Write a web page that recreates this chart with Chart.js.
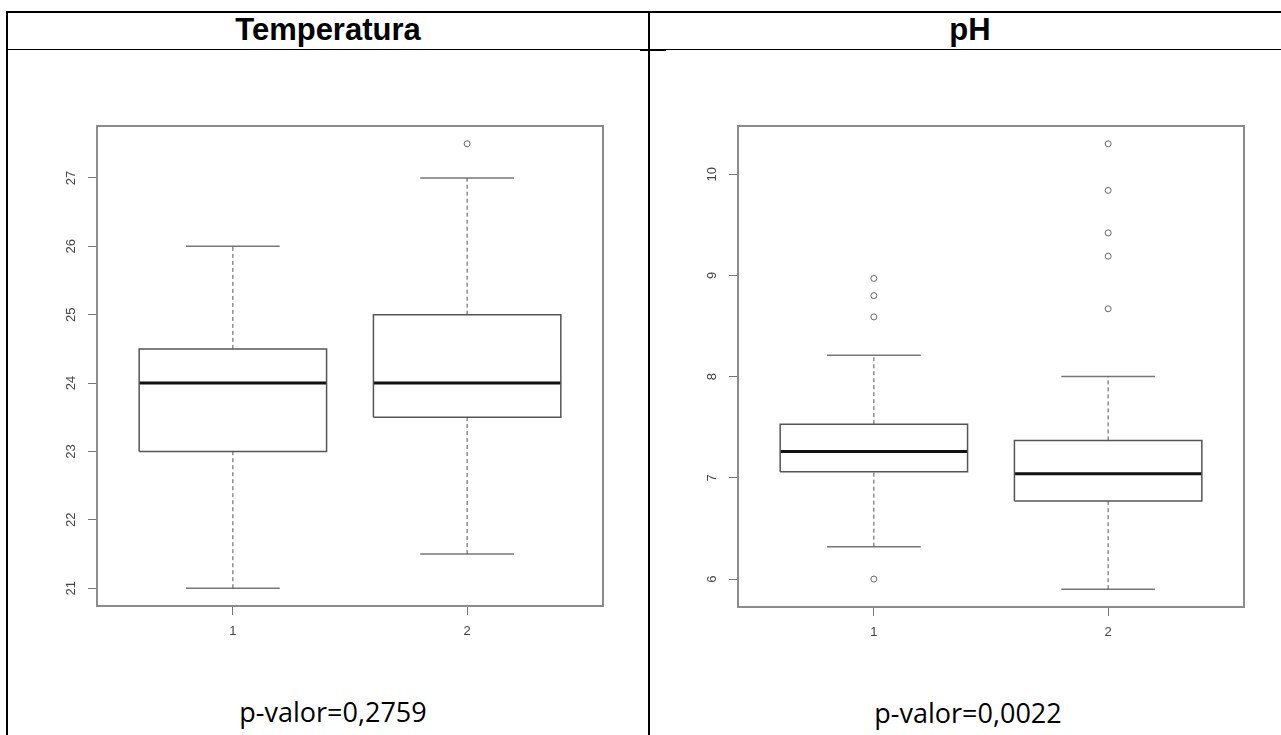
<!DOCTYPE html>
<html>
<head>
<meta charset="utf-8">
<script src="https://cdn.jsdelivr.net/npm/chart.js@4.4.1/dist/chart.umd.min.js"></script>
<style>
  body { margin: 0; background: #fff; width: 1281px; height: 735px; overflow: hidden; position: relative; }
  .rule { position: absolute; background: #000; }
  .head { position: absolute; width: 400px; text-align: center; font: bold 31px "Liberation Sans", Arial, sans-serif; line-height: 31px; color: #000; }
  .pval { position: absolute; width: 400px; text-align: center; font: 27px "Open Sans", sans-serif; line-height: 27px; color: #000; }
  canvas { position: absolute; }
</style>
</head>
<body>
<!-- table rules -->
<div class="rule" style="left:6px;top:11px;width:1275px;height:2px"></div>
<div class="rule" style="left:6px;top:11px;width:2px;height:724px"></div>
<div class="rule" style="left:648px;top:11px;width:2px;height:724px"></div>
<div class="rule" style="left:6px;top:49px;width:1275px;height:1px"></div>
<div class="rule" style="left:640px;top:50px;width:26px;height:1px"></div>

<div class="head" style="left:128px;top:14px">Temperatura</div>
<div class="head" style="left:770px;top:14px">pH</div>
<div class="pval" style="left:133px;top:698px">p-valor=0,2759</div>
<div class="pval" style="left:768px;top:699px">p-valor=0,0022</div>

<canvas id="temp"></canvas>
<canvas id="ph"></canvas>

<script>
// groups on the x axis
var groups = ['1', '2'];

// Temperatura: five-number summaries per group
var tempLow = [21, 21.5];
var tempQ1 = [23, 23.5];
var tempMedian = [24, 24];
var tempQ3 = [24.5, 25];
var tempHigh = [26, 27];
var tempOutliers = [[], [27.5]];
var tempTicks = [21, 22, 23, 24, 25, 26, 27];

// pH
var phLow = [6.32, 5.9];
var phQ1 = [7.06, 6.77];
var phMedian = [7.26, 7.04];
var phQ3 = [7.53, 7.37];
var phHigh = [8.21, 8.0];
var phOutliers = [[6.0, 8.59, 8.8, 8.97], [8.67, 9.19, 9.42, 9.84, 10.3]];
var phTicks = [6, 7, 8, 9, 10];

// box around the plot region
var frame = {
  id: 'frame',
  afterDatasetsDraw: function (chart) {
    var a = chart.chartArea, c = chart.ctx;
    c.save();
    c.strokeStyle = '#8c8c8c';
    c.lineWidth = 2;
    c.strokeRect(a.left, a.top, a.right - a.left, a.bottom - a.top);
    c.restore();
  }
};

function seg(data, color, width, dash) {
  return {
    data: data, borderColor: color, borderWidth: width, borderDash: dash || [],
    showLine: true, pointRadius: 0, fill: false, tension: 0, borderJoinStyle: 'miter'
  };
}

function boxplot(id, area, low, q1, med, q3, high, outliers, ticks) {
  var el = document.getElementById(id);
  var left = area.left - 60, top = area.top - 30;
  el.style.left = left + 'px';
  el.style.top = top + 'px';
  el.width = area.right - left + 20;
  el.height = area.bottom - top + 40;

  // y range like R: data range plus 4%
  var all = low.concat(high);
  outliers.forEach(function (o) { all = all.concat(o); });
  var lo = Math.min.apply(null, all), hi = Math.max.apply(null, all);
  var pad = (hi - lo) * 0.04;

  var datasets = [];
  groups.forEach(function (g, i) {
    var x = i + 1;
    datasets.push(seg([{x: x, y: q3[i]}, {x: x, y: high[i]}], '#555', 1, [4, 3]));
    datasets.push(seg([{x: x, y: low[i]}, {x: x, y: q1[i]}], '#555', 1, [4, 3]));
    datasets.push(seg([{x: x - 0.2, y: high[i]}, {x: x + 0.2, y: high[i]}], '#777', 1.5));
    datasets.push(seg([{x: x - 0.2, y: low[i]}, {x: x + 0.2, y: low[i]}], '#777', 1.5));
    datasets.push(seg([
      {x: x - 0.4, y: q1[i]}, {x: x + 0.4, y: q1[i]}, {x: x + 0.4, y: q3[i]},
      {x: x - 0.4, y: q3[i]}, {x: x - 0.4, y: q1[i]}
    ], '#555', 1.5));
    datasets.push(seg([{x: x - 0.4, y: med[i]}, {x: x + 0.4, y: med[i]}], '#111', 3));
    datasets.push({
      data: outliers[i].map(function (y) { return {x: x, y: y}; }),
      showLine: false, pointRadius: 3, pointStyle: 'circle',
      borderColor: '#666', borderWidth: 1, backgroundColor: 'rgba(0,0,0,0)'
    });
  });

  var tickFont = { family: 'Liberation Sans', size: 13 };

  return new Chart(el.getContext('2d'), {
    type: 'scatter',
    data: { datasets: datasets },
    options: {
      responsive: false,
      animation: false,
      devicePixelRatio: 1,
      layout: { padding: { top: 30, right: 20, left: 0, bottom: 0 }, autoPadding: false },
      plugins: { legend: { display: false }, tooltip: { enabled: false } },
      scales: {
        x: {
          type: 'linear', min: 0.42, max: groups.length + 0.58,
          afterBuildTicks: function (s) { s.ticks = groups.map(function (g, i) { return {value: i + 1}; }); },
          afterFit: function (s) { s.height = 40; },
          border: { display: false },
          grid: { drawOnChartArea: false, tickLength: 9, color: '#777' },
          ticks: { padding: 9, color: '#444', font: tickFont, callback: function (v, i) { return groups[i]; } }
        },
        y: {
          min: lo - pad, max: hi + pad,
          afterBuildTicks: function (s) { s.ticks = ticks.map(function (v) { return {value: v}; }); },
          afterFit: function (s) { s.width = 60; },
          border: { display: false },
          grid: { drawOnChartArea: false, tickLength: 9, color: '#777' },
          ticks: { padding: 9, minRotation: 90, maxRotation: 90, crossAlign: 'center', color: '#444', font: tickFont }
        }
      }
    },
    plugins: [frame]
  });
}

boxplot('temp', {left: 97, right: 603, top: 126, bottom: 606},
  tempLow, tempQ1, tempMedian, tempQ3, tempHigh, tempOutliers, tempTicks);
boxplot('ph', {left: 738, right: 1244, top: 126, bottom: 607},
  phLow, phQ1, phMedian, phQ3, phHigh, phOutliers, phTicks);
</script>
</body>
</html>
